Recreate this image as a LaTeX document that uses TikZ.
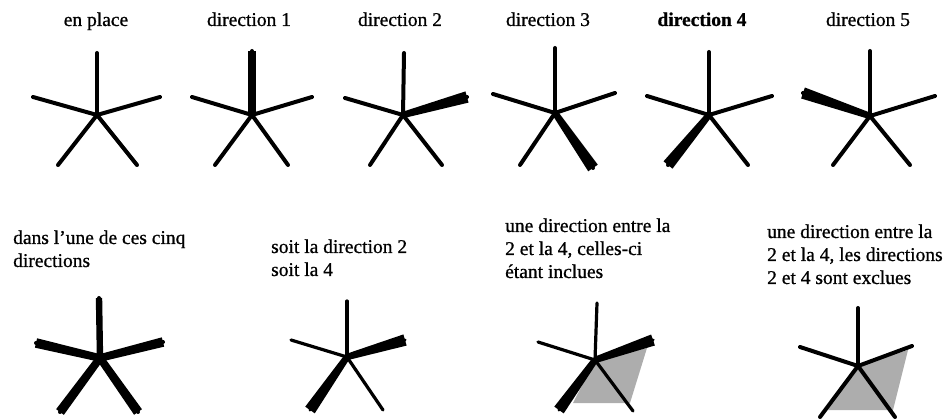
\documentclass[tikz,border=0pt]{standalone}
\usepackage{fontspec}
\setmainfont{Liberation Serif}
\newfontfamily\lblfont{Liberation Serif}[FakeBold=0.8]
\usetikzlibrary{calc}
\tikzset{
  armline/.style={line width=4pt, line cap=round},
  armfine/.style={line width=3.2pt, line cap=round},
  lbl/.style={inner sep=0pt, anchor=base, font=\lblfont\fontsize{19.5}{23}\selectfont},
  lbll/.style={inner sep=0pt, anchor=base west, align=left, font=\lblfont\fontsize{19.5}{23}\selectfont},
  zone/.style={fill=black!32, draw=none}
}
\newcommand\tarm[4]{\fill ($(#1)!#3!90:(#2)$) -- ($(#2)!#4!-90:(#1)$) -- ($(#2)!#4!90:(#1)$) -- ($(#1)!#3!-90:(#2)$) -- cycle;}
\newcommand\fivearms[2]{\foreach \a in {t,l,r,bl,br} {\draw[#2] (#1c) -- (#1\a);}}
\begin{document}
\begin{tikzpicture}[x=1pt,y=-1pt]
\useasboundingbox (0,0) rectangle (950,419);
% labels top
\node[lbl] (L1) at (96,26) {en place};
\node[lbl] (L2) at (249,26) {direction 1};
\node[lbl] (L3) at (400,26) {direction 2};
\node[lbl] (L4) at (548,26) {direction 3};
\node[lbl] (L5) at (702,26) {\bfseries direction 4};
\node[lbl] (L6) at (868,26) {direction 5};
% labels bottom (anchor = baseline of last line)
\node[lbll] (LA) at (13,267) {dans l’une de ces cinq\\directions};
\node[lbll] (LB) at (271,276) {soit la direction 2\\soit la 4};
\node[lbll] (LC) at (505,278) {une direction entre la\\2 et la 4, celles-ci\\étant inclues};
\node[lbll] (LD) at (767,284) {une direction entre la\\2 et la 4, les directions\\2 et 4 sont exclues};
% star 1
\coordinate (ac) at (97,115); \coordinate (at) at (97,53); \coordinate (al) at (33,97);
\coordinate (ar) at (160,97); \coordinate (abl) at (58,165); \coordinate (abr) at (137,165);
\fivearms{a}{armline}
% star 2
\coordinate (bc) at (252,115); \coordinate (bt) at (252,51); \coordinate (bl) at (192,97);
\coordinate (br) at (312,97); \coordinate (bbl) at (215,165); \coordinate (bbr) at (288,165);
\fivearms{b}{armline}
\tarm{bc}{bt}{3.6pt}{3.6pt}
% star 3
\coordinate (cc) at (403,115); \coordinate (ct) at (404,53); \coordinate (cl) at (345,98);
\coordinate (cr) at (467,97); \coordinate (cbl) at (370,165); \coordinate (cbr) at (442,165);
\fivearms{c}{armline}
\tarm{cc}{cr}{3.2pt}{5.8pt}
% star 4
\coordinate (dc) at (555,113); \coordinate (dt) at (555,48); \coordinate (dl) at (493,94);
\coordinate (dr) at (615,93); \coordinate (dbl) at (520,165); \coordinate (dbr) at (593,168);
\fivearms{d}{armline}
\tarm{dc}{dbr}{3.2pt}{5.8pt}
% star 5
\coordinate (ec) at (709,115); \coordinate (et) at (709,52); \coordinate (el) at (647,96);
\coordinate (er) at (772,96); \coordinate (ebl) at (668,165); \coordinate (ebr) at (748,165);
\fivearms{e}{armline}
\tarm{ec}{ebl}{3.2pt}{5.8pt}
% star 6
\coordinate (fc) at (870,116); \coordinate (ft) at (870,51); \coordinate (fl) at (803,93);
\coordinate (fr) at (935,96); \coordinate (fbl) at (833,165); \coordinate (fbr) at (910,165);
\fivearms{f}{armline}
\tarm{fc}{fl}{3.2pt}{5.8pt}
% star A
\coordinate (gc) at (100,358); \coordinate (gt) at (99,298); \coordinate (gl) at (36,343);
\coordinate (gr) at (163,342); \coordinate (gbl) at (60,412); \coordinate (gbr) at (138,412);
\fivearms{g}{armline}
\tarm{gc}{gt}{3.2pt}{3.2pt}
\tarm{gc}{gl}{3.8pt}{4.8pt}
\tarm{gc}{gr}{3.8pt}{4.8pt}
\tarm{gc}{gbl}{3.8pt}{4.8pt}
\tarm{gc}{gbr}{3.8pt}{4.8pt}
% star B
\coordinate (hc) at (347,357); \coordinate (ht) at (347,301); \coordinate (hl) at (291,340);
\coordinate (hr) at (405,340); \coordinate (hbl) at (310,410); \coordinate (hbr) at (383,410);
\fivearms{h}{armfine}
\tarm{hc}{hr}{3.2pt}{5.8pt}
\tarm{hc}{hbl}{3.2pt}{5.8pt}
% star C
\coordinate (ic) at (595,360); \coordinate (it) at (597,303); \coordinate (il) at (538,342);
\coordinate (ir) at (653,340); \coordinate (ibl) at (559,410); \coordinate (ibr) at (633,411);
\coordinate (iz1) at (647,348); \coordinate (iz2) at (630,403); \coordinate (iz3) at (573,403);
\fill[zone] (ic) -- (iz1) -- (iz2) -- (iz3) -- cycle;
\fivearms{i}{armfine}
\tarm{ic}{ir}{3.2pt}{5.8pt}
\tarm{ic}{ibl}{3.2pt}{5.8pt}
% star D
\coordinate (jc) at (858,366); \coordinate (jt) at (858,308); \coordinate (jl) at (800,347);
\coordinate (jr) at (912,346); \coordinate (jbl) at (820,417); \coordinate (jbr) at (895,417);
\coordinate (jz1) at (908,350); \coordinate (jz2) at (893,410); \coordinate (jz3) at (828,410);
\fill[zone] (jc) -- (jz1) -- (jz2) -- (jz3) -- cycle;
\fivearms{j}{armline}
\end{tikzpicture}
\end{document}
